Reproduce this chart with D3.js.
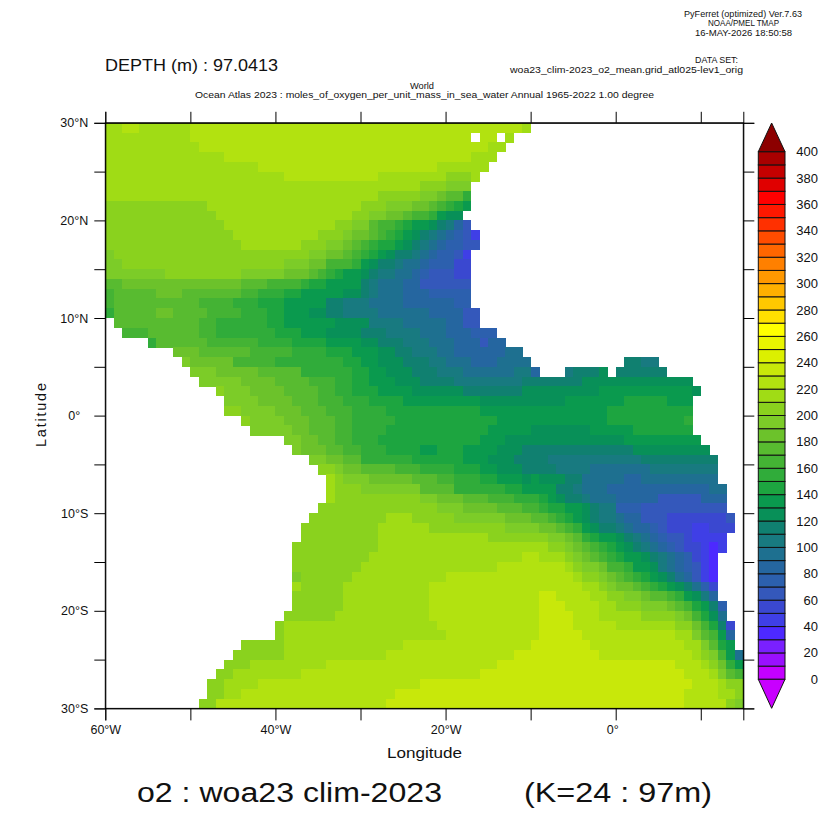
<!DOCTYPE html>
<html><head><meta charset="utf-8">
<script src="https://cdn.jsdelivr.net/npm/d3@7"></script>
<style>
html,body{margin:0;padding:0;background:#fff}
svg{display:block}
text{font-family:"Liberation Sans",Arimo,sans-serif;fill:#111}
</style></head><body>
<svg id="c" width="832" height="832"></svg>
<script>
// O2 at 97 m on a 1-degree grid. Each row (29.5N down to 29.5S) is a list of runs:
// column index (0 = 60W-59W), value, column index, value ... null = no data.
const o2Rows = [
[0,215,2,225,4,215,10,225,49,215,50,null],
[0,215,10,225,43,null,44,225,46,null,47,215,48,null],
[0,215,11,225,45,215,47,null],
[0,215,14,225,43,215,46,null],
[0,215,18,225,39,215,45,null],
[0,215,21,225,32,215,40,205,43,215,44,null],
[0,215,37,205,40,195,43,null],
[0,215,32,205,37,195,39,185,40,175,42,155,43,null],
[0,205,12,215,30,205,33,195,36,185,38,175,39,165,40,155,41,145,42,135,43,null],
[0,205,13,215,29,205,31,195,33,185,35,175,36,165,38,155,39,135,40,125,42,null],
[0,205,14,215,27,205,29,195,31,175,32,165,34,155,35,145,36,135,38,125,39,115,40,105,41,85,42,65,43,null],
[0,205,15,215,25,205,28,195,29,185,31,175,32,165,33,155,34,145,35,135,36,125,37,115,38,105,39,95,40,85,41,75,42,65,43,45,44,null],
[0,205,16,215,23,205,26,195,28,185,29,175,30,165,31,155,32,145,34,135,35,125,36,115,37,105,38,95,39,85,40,75,42,65,44,null],
[0,195,1,205,24,195,26,185,28,175,29,165,30,155,31,145,32,135,33,125,34,115,36,105,37,95,38,85,39,75,41,65,42,45,43,null],
[0,195,2,205,21,195,24,185,26,165,29,155,30,135,31,125,32,115,34,105,35,95,37,85,38,75,41,55,43,null],
[0,195,7,205,16,195,21,185,24,175,25,165,26,155,27,145,28,135,30,125,31,115,32,105,34,95,36,85,37,75,38,65,41,55,43,null],
[0,175,2,185,16,175,19,165,23,155,24,145,26,135,30,115,31,105,32,95,35,85,37,65,43,null],
[0,165,1,175,6,185,9,175,16,165,18,155,21,145,23,135,28,125,30,115,31,105,32,95,35,85,38,75,43,null],
[0,165,1,175,11,165,15,155,18,145,21,135,26,115,28,105,31,95,35,85,41,75,43,null],
[0,155,1,175,6,185,8,175,12,165,16,155,19,145,21,135,24,125,26,115,28,105,32,95,38,85,42,65,44,null],
[0,null,1,175,11,165,13,155,19,145,21,135,27,125,31,105,35,95,40,85,42,65,44,null],
[0,null,2,165,5,175,11,165,13,155,20,145,23,135,26,125,30,115,33,105,37,95,40,85,43,75,46,null],
[0,null,5,155,6,175,12,165,18,155,22,145,26,135,30,125,32,115,35,105,38,95,41,85,44,65,45,85,47,null],
[0,null,8,185,11,175,17,165,22,155,26,145,29,135,32,125,34,115,36,105,39,95,41,85,47,95,49,null],
[0,null,9,195,10,185,15,165,20,155,28,145,30,135,32,125,35,115,38,105,40,95,43,85,46,95,50,null,61,115,63,105,65,null],
[0,null,10,195,13,185,18,175,23,155,29,145,31,135,33,125,36,115,39,105,42,95,48,105,50,85,51,null,54,105,55,115,58,125,59,null,60,115,66,null],
[0,null,11,195,16,185,20,175,24,165,27,155,29,145,31,135,34,125,37,115,41,105,49,115,56,125,69,null],
[0,null,13,205,14,195,17,185,21,175,25,165,27,155,29,145,32,135,36,125,42,115,49,125,58,135,69,125,70,null],
[0,null,14,195,18,185,22,175,25,165,28,155,31,145,35,135,44,125,54,135,61,145,66,135,69,null],
[0,null,14,205,16,195,20,185,23,175,26,165,29,155,33,145,44,135,59,145,69,null],
[0,null,16,205,17,195,21,185,24,175,27,165,29,155,34,145,46,135,59,145,68,155,69,null],
[0,null,17,195,22,185,24,175,27,165,29,155,33,145,45,135,50,125,57,135,62,145,69,null],
[0,null,21,195,23,185,25,175,27,165,29,155,32,145,44,135,47,125,61,135,70,null],
[0,null,22,195,23,185,26,175,28,165,30,155,33,145,37,135,39,145,42,135,46,125,49,115,62,125,71,null],
[0,null,24,195,26,185,28,175,30,155,36,145,42,135,45,125,48,115,52,105,63,115,72,null],
[0,null,25,205,27,195,28,185,30,175,34,165,37,155,41,145,44,135,46,125,49,115,53,105,57,95,64,105,72,null],
[0,null,26,215,27,205,28,195,31,185,36,175,39,165,41,155,44,145,46,135,49,125,50,135,51,125,54,115,56,95,61,85,63,95,72,null],
[0,null,26,215,27,205,30,195,37,175,41,155,47,145,49,135,53,115,55,105,56,95,59,85,71,95,73,null],
[0,null,26,215,27,205,37,195,39,185,42,175,45,165,48,155,51,145,52,135,53,125,54,115,56,105,57,95,60,85,65,65,70,85,73,null],
[0,null,25,205,39,195,42,185,46,175,49,165,51,155,52,145,54,135,56,125,57,115,58,105,60,75,63,65,73,null],
[0,null,24,205,33,215,36,205,41,195,47,185,50,175,52,165,53,155,54,145,55,135,56,125,57,115,58,105,60,95,61,85,63,65,66,55,73,65,74,null],
[0,null,23,205,32,215,38,205,47,195,51,185,53,175,54,165,55,155,56,135,57,125,58,115,60,105,61,95,62,85,64,75,65,65,66,55,69,45,71,55,74,null],
[0,null,23,205,32,215,45,205,52,195,54,185,55,175,56,155,57,145,58,135,60,125,61,115,62,105,63,95,64,85,65,75,66,65,68,55,69,45,73,null],
[0,null,22,205,32,215,52,205,54,195,55,185,56,175,57,165,58,155,59,145,60,135,61,125,62,115,63,105,64,95,65,85,66,75,67,65,68,55,70,45,71,35,72,45,73,null],
[0,null,22,205,31,215,49,225,51,215,54,205,55,195,56,185,57,175,58,165,59,155,60,145,61,135,63,125,64,115,65,105,66,95,67,85,68,75,69,55,70,45,71,35,72,null],
[0,null,22,205,30,215,46,225,54,215,55,205,56,195,58,185,59,165,61,155,62,135,64,125,65,105,66,95,67,85,68,75,69,65,70,45,71,35,72,null],
[0,null,22,195,23,205,29,215,40,225,55,215,56,205,58,195,59,185,60,175,61,165,62,155,63,145,64,135,65,125,66,115,67,95,68,85,69,65,70,45,71,35,72,null],
[0,null,22,215,23,205,28,215,38,225,56,215,58,205,59,195,60,185,62,175,63,165,64,155,65,145,66,135,67,125,68,115,69,95,70,75,71,55,72,null],
[0,null,22,205,28,215,38,225,51,235,53,225,57,215,59,205,61,195,63,185,64,175,66,165,67,155,68,135,69,125,70,105,71,85,72,null],
[0,null,22,205,28,215,38,225,51,235,54,225,58,215,60,205,63,195,66,185,67,175,68,165,69,145,70,135,71,115,72,75,73,null],
[0,null,21,205,27,215,38,225,51,235,55,225,58,215,63,205,67,195,68,185,69,165,70,145,71,125,72,95,73,null],
[0,null,20,205,21,215,39,225,51,235,55,225,60,215,67,205,69,185,70,165,71,145,72,115,73,55,74,null],
[0,null,20,205,21,215,40,225,51,235,56,225,67,215,69,195,70,175,71,165,72,135,73,85,74,null],
[0,null,16,205,21,215,35,225,50,235,57,225,68,215,70,195,71,175,72,145,73,135,74,null],
[0,null,15,205,21,215,33,225,48,235,58,225,69,215,70,205,71,195,72,165,73,135,74,95],
[0,null,14,205,17,215,26,225,46,235,67,225,70,215,71,205,72,185,73,155,74,135],
[0,null,13,205,15,215,23,225,44,235,68,225,71,215,72,195,73,175,74,165],
[0,null,12,205,14,215,18,225,37,235,69,225,72,215,73,205],
[0,null,12,205,14,215,16,225,34,235,68,225,72,215,74,205],
[0,null,11,205,13,225,33,235,68,225,73,205,74,195]
];
const lonStart = -60, lonEnd = 15, latTop = 30, latBottom = -30;

// Colour key: one colour per 10-unit band from 0 to 400
const bandColors = ["#c400ff","#9a10ff","#7a20ff","#4d29ff","#3f3fe6","#3a48d0","#3458bb","#2c60ae","#2566a0","#1e7090",
"#187a80","#108070","#089058","#0a9a4e","#1da540","#30ac3a","#44b334","#58bb30","#6cc22b","#7ccc28",
"#8ad21e","#a0dc15","#b2e210","#c8e80a","#dcf000","#eaf500","#ffff00","#ffe000","#ffc800","#ffb000",
"#ff9800","#ff8000","#ff6600","#ff4c00","#ff3000","#ff1800","#ff0000","#e00000","#c40000","#a80000"];
const overColor = "#8c0000", underColor = "#c800ff";
const bandEdges = d3.range(0, 401, 10);
const keyTicks = d3.range(0, 401, 20);
const lonTicks = d3.range(-60, 11, 10);
const lonLabels = {"-60":"60°W","-40":"40°W","-20":"20°W","0":"0°"};
const latTicks = d3.range(-30, 31, 5);
const latLabels = {"30":"30°N","20":"20°N","10":"10°N","0":"0°","-10":"10°S","-20":"20°S","-30":"30°S"};

const svg = d3.select("#c");
const left = 105.3, right = 743.3, top_ = 122.8, bottom = 708.4;
const x = d3.scaleLinear().domain([lonStart, lonEnd]).range([left, right]);
const y = d3.scaleLinear().domain([latTop, latBottom]).range([top_, bottom]);
const color = d3.scaleThreshold().domain(bandEdges.slice(1, -1)).range(bandColors);

// expand rows into cells
const cells = [];
o2Rows.forEach((row, r) => {
  for (let i = 0; i < row.length; i += 2) {
    const end = i + 2 < row.length ? row[i + 2] : lonEnd - lonStart;
    if (row[i + 1] === null) continue;
    for (let c = row[i]; c < end; c++) cells.push({lon: lonStart + c, lat: latTop - r, v: row[i + 1]});
  }
});
svg.append("g").selectAll("rect").data(cells).join("rect")
  .attr("x", d => x(d.lon)).attr("y", d => y(d.lat))
  .attr("width", d => x(d.lon + 1) - x(d.lon) + 0.4)
  .attr("height", d => y(d.lat - 1) - y(d.lat) + 0.4)
  .attr("fill", d => color(d.v)).attr("shape-rendering", "crispEdges");

// axes
const axisStyle = g => {
  g.selectAll("path,line").attr("stroke", "#000").attr("stroke-width", 1);
  g.selectAll("text").attr("fill", "#111").attr("font-size", 12.5).attr("font-family", '"Liberation Sans"');
  g.attr("font-family", null);
};
const lonFmt = d => lonLabels[d] || "", latFmt = d => latLabels[d] || "";
const xAx = svg.append("g").attr("transform", `translate(0,${bottom})`)
  .call(d3.axisBottom(x).tickValues(lonTicks).tickSizeOuter(0).tickSize(12).tickPadding(5).tickFormat(lonFmt)).call(axisStyle);
xAx.selectAll("text").filter(d => d === 0).attr("dx", -3.5);
svg.append("g").attr("transform", `translate(0,${top_})`)
  .call(d3.axisTop(x).tickValues(lonTicks).tickSizeOuter(0).tickSize(11).tickFormat("")).call(axisStyle);
const yAx = svg.append("g").attr("transform", `translate(${left},0)`)
  .call(d3.axisLeft(y).tickValues(latTicks).tickSizeOuter(0).tickSize(11).tickPadding(6).tickFormat(latFmt)).call(axisStyle);
yAx.selectAll("text").filter(d => d === 0).attr("dx", -8);
svg.append("g").attr("transform", `translate(${right},0)`)
  .call(d3.axisRight(y).tickValues(latTicks).tickSizeOuter(0).tickSize(11).tickFormat("")).call(axisStyle);
svg.append("rect").attr("x", left).attr("y", top_).attr("width", right - left).attr("height", bottom - top_)
  .attr("fill", "none").attr("stroke", "#000");

// colour key
const kx0 = 758.3, kx1 = 785, kxm = (kx0 + kx1) / 2;
const ky = d3.scaleLinear().domain([0, 400]).range([679.3, 151.7]);
svg.append("g").selectAll("rect").data(bandColors).join("rect")
  .attr("x", kx0).attr("width", kx1 - kx0)
  .attr("y", (d, i) => ky(bandEdges[i + 1])).attr("height", (d, i) => ky(bandEdges[i]) - ky(bandEdges[i + 1]))
  .attr("fill", d => d).attr("stroke", "#111").attr("stroke-width", 1);
const tri = d3.line();
svg.append("path").attr("d", tri([[kx0, ky(400)], [kxm, 123], [kx1, ky(400)]]) + "Z")
  .attr("fill", overColor).attr("stroke", "#111");
svg.append("path").attr("d", tri([[kx0, ky(0)], [kxm, 708.3], [kx1, ky(0)]]) + "Z")
  .attr("fill", underColor).attr("stroke", "#111");
svg.append("g").selectAll("text").data(keyTicks).join("text")
  .attr("x", 818).attr("y", d => ky(d)).attr("dy", "0.35em").attr("text-anchor", "end")
  .attr("font-size", 13).text(d => d);

// titles: text, left edge, baseline, width, size
const titles = [
  ["PyFerret (optimized) Ver.7.63", 684, 17, 118, 9, 400],
  ["NOAA/PMEL TMAP", 708, 26, 71, 8.5, 400],
  ["16-MAY-2026 18:50:58", 695, 36, 97, 9, 400],
  ["DATA SET:", 695, 63, 43, 9, 400],
  ["woa23_clim-2023_o2_mean.grid_atl025-lev1_orig", 510, 73, 233, 9, 400],
  ["World", 410, 89, 24, 9, 400],
  ["Ocean Atlas 2023 : moles_of_oxygen_per_unit_mass_in_sea_water Annual 1965-2022 1.00 degree", 195, 98, 459, 9, 400],
  ["DEPTH (m) : 97.0413", 105, 71, 173, 16.5, 400],
  ["Longitude", 387, 758, 75, 14.5, 400],
  ["o2 : woa23 clim-2023", 137, 802, 305, 27, 400],
  ["(K=24 : 97m)", 524, 802, 188, 27, 400]
];
svg.append("g").selectAll("text").data(titles).join("text")
  .attr("x", d => d[1]).attr("y", d => d[2]).attr("textLength", d => d[3]).attr("lengthAdjust", "spacingAndGlyphs")
  .attr("font-size", d => d[4]).attr("font-weight", d => d[5]).text(d => d[0]);
svg.append("text").attr("transform", "translate(46,415) rotate(-90)").attr("text-anchor", "middle")
  .attr("font-size", 14.5).attr("textLength", 64).text("Latitude");
</script>
</body></html>
